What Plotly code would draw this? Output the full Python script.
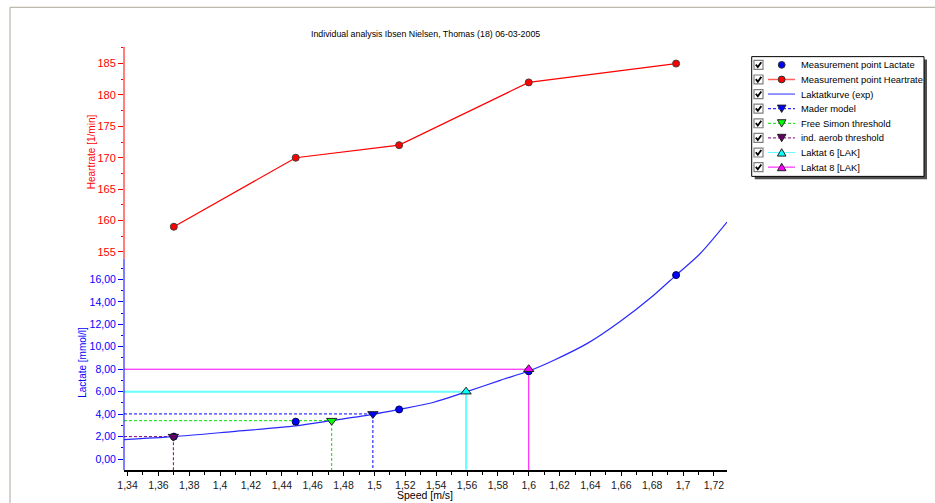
import plotly.graph_objects as go

# ---------------- data ----------------
title_text = "Individual analysis Ibsen Nielsen, Thomas (18) 06-03-2005"

speed = [1.370, 1.449, 1.516, 1.600, 1.6955]
lactate = [2.00, 3.33, 4.42, 7.82, 16.38]
heartrate = [159, 170, 172, 182, 185]

curve_speed = [1.3377, 1.3697, 1.408, 1.449, 1.472, 1.499, 1.516, 1.538, 1.5594,
               1.5815, 1.600, 1.616, 1.638, 1.659, 1.681, 1.6955, 1.711, 1.7285]
curve_lactate = [1.74, 2.00, 2.45, 2.95, 3.42, 3.98, 4.42, 5.04, 5.98,
                 7.01, 7.84, 8.78, 10.30, 12.23, 14.59, 16.38, 18.28, 21.10]

thr_names = ["Mader model", "Free Simon threshold", "ind. aerob threshold",
             "Laktat 6 [LAK]", "Laktat 8 [LAK]"]
thr_speed = [1.499, 1.4723, 1.3697, 1.5594, 1.600]
thr_lactate = [4.02, 3.42, 2.00, 6.00, 8.00]

x_tickvals = [1.34, 1.36, 1.38, 1.40, 1.42, 1.44, 1.46, 1.48, 1.50, 1.52, 1.54,
              1.56, 1.58, 1.60, 1.62, 1.64, 1.66, 1.68, 1.70, 1.72]
x_ticktext = ["1,34", "1,36", "1,38", "1,4", "1,42", "1,44", "1,46", "1,48", "1,5",
              "1,52", "1,54", "1,56", "1,58", "1,6", "1,62", "1,64", "1,66", "1,68",
              "1,7", "1,72"]
lac_tickvals = [0, 2, 4, 6, 8, 10, 12, 14, 16]
lac_ticktext = ["0,00", "2,00", "4,00", "6,00", "8,00", "10,00", "12,00", "14,00", "16,00"]
lac_minor = [1, 3, 5, 7, 9, 11, 13, 15, 17]
hr_tickvals = [155, 160, 165, 170, 175, 180, 185]
hr_minor = [157.5, 162.5, 167.5, 172.5, 177.5, 182.5, 187.5]

# ---------------- layout geometry ----------------
W, H = 935, 503
PL, PR, PT, PB = 124, 727, 47, 473          # plot area in pixels
X_RANGE = [1.3377, 1.7285]
Y_RANGE = [-0.972, 36.685]
Y2_RANGE = [120.24, 187.64]
LAC_AXIS_TOP = 17.83
HR_AXIS_BOTTOM = 153.9

RED = "#ff0000"
BLUE = "#0000ff"
FONT = "Liberation Sans, Arial, sans-serif"


def px(xp):
    return (xp - PL) / (PR - PL)


def py(yp):
    return (PB - yp) / (PB - PT)


thr_style = [
    dict(color="#0000ff", dash="3px,2px", width=1, symbol="triangle-down", mcolor="#0000ff"),
    dict(color="#00e000", dash="3px,2px", width=1, symbol="triangle-down", mcolor="#00ff00"),
    dict(color="#800080", dash="3px,2px", width=1, symbol="triangle-down", mcolor="#660066"),
    dict(color="#66ffff", dash="solid", width=2, symbol="triangle-up", mcolor="#00ffff"),
    dict(color="#ff00ff", dash="solid", width=1, symbol="triangle-up", mcolor="#ff00ff"),
]

fig = go.Figure()

# threshold guide lines (left axis -> point -> bottom axis)
for name, tx, ty, st in zip(thr_names, thr_speed, thr_lactate, thr_style):
    fig.add_trace(go.Scatter(
        x=[X_RANGE[0], tx, tx], y=[ty, ty, Y_RANGE[0]], mode="lines",
        line=dict(color=st["color"], dash=st["dash"], width=st["width"]),
        showlegend=False, hoverinfo="skip", name=name))

# lactate curve
fig.add_trace(go.Scatter(x=curve_speed, y=curve_lactate, mode="lines",
                         line=dict(color="#2828ff", width=1.2, shape="spline", smoothing=0.8),
                         name="Laktatkurve (exp)", showlegend=False))

# lactate measurement points
fig.add_trace(go.Scatter(x=speed, y=lactate, mode="markers",
                         marker=dict(symbol="circle", size=7, color=BLUE,
                                     line=dict(color="#000050", width=1)),
                         name="Measurement point Lactate", showlegend=False))

# threshold markers
for name, tx, ty, st in zip(thr_names, thr_speed, thr_lactate, thr_style):
    fig.add_trace(go.Scatter(
        x=[tx], y=[ty], mode="markers",
        marker=dict(symbol=st["symbol"], size=9, color=st["mcolor"],
                    line=dict(color="#202020", width=1)),
        showlegend=False, name=name))

# heartrate
fig.add_trace(go.Scatter(x=speed, y=heartrate, mode="lines+markers", yaxis="y2",
                         line=dict(color=RED, width=1.2),
                         marker=dict(symbol="circle", size=7, color=RED,
                                     line=dict(color="#404040", width=1)),
                         name="Measurement point Heartrate", showlegend=False))

shapes = []
annotations = []

# window frame
shapes.append(dict(type="line", xref="paper", yref="paper", x0=px(10), x1=px(W + 5),
                   y0=py(7), y1=py(7), line=dict(color="#aca899", width=1)))
shapes.append(dict(type="line", xref="paper", yref="paper", x0=px(10), x1=px(10),
                   y0=py(7), y1=py(H + 5), line=dict(color="#aca899", width=1)))

# y-axis lines (red for heartrate part, blue for lactate part)
shapes.append(dict(type="line", xref="paper", yref="y2", x0=0, x1=0,
                   y0=HR_AXIS_BOTTOM, y1=Y2_RANGE[1], line=dict(color=RED, width=1)))
shapes.append(dict(type="line", xref="paper", yref="y", x0=0, x1=0,
                   y0=Y_RANGE[0], y1=LAC_AXIS_TOP, line=dict(color=BLUE, width=1)))

# ---------------- custom legend ----------------
LX0, LY0, LX1, LY1 = 751.7, 56.7, 924, 177.3
shapes.append(dict(type="rect", xref="paper", yref="paper", x0=px(LX0 + 3), x1=px(LX1 + 3),
                   y0=py(LY0 + 3), y1=py(LY1 + 3), fillcolor="#505050", line=dict(width=0)))
shapes.append(dict(type="rect", xref="paper", yref="paper", x0=px(LX0), x1=px(LX1),
                   y0=py(LY0), y1=py(LY1), fillcolor="white", line=dict(color="black", width=1)))

legend_entries = [
    dict(name="Measurement point Lactate", line=None, dash="solid", lw=1, symbol="circle", mcolor=BLUE),
    dict(name="Measurement point Heartrate", line="#ff6060", dash="solid", lw=1.5, symbol="circle", mcolor=RED),
    dict(name="Laktatkurve (exp)", line="#7070ff", dash="solid", lw=1.5, symbol=None, mcolor=None),
]
for name, st in zip(thr_names, thr_style):
    legend_entries.append(dict(name=name, line=st["color"], dash=st["dash"], lw=1,
                               symbol=st["symbol"], mcolor=st["mcolor"]))

ROW0, ROWSTEP = 65.0, 14.71
for i, e in enumerate(legend_entries):
    yc = ROW0 + i * ROWSTEP
    # checkbox
    shapes.append(dict(type="rect", xref="paper", yref="paper", x0=px(754), x1=px(763),
                       y0=py(yc - 4.5), y1=py(yc + 4.5), fillcolor="white",
                       line=dict(color="#808080", width=1.2)))
    shapes.append(dict(type="path", xref="paper", yref="paper",
                       path=f"M {px(755.8)},{py(yc - 0.3)} L {px(757.8)},{py(yc + 2.2)} L {px(761.3)},{py(yc - 2.6)}",
                       line=dict(color="black", width=1.8)))
    # line sample
    if e["line"]:
        shapes.append(dict(type="line", xref="paper", yref="paper", x0=px(768), x1=px(795),
                           y0=py(yc), y1=py(yc),
                           line=dict(color=e["line"], width=e["lw"], dash=e["dash"])))
    # marker sample
    cx = 781.7
    if e["symbol"] == "circle":
        r = 3.4
        shapes.append(dict(type="circle", xref="paper", yref="paper", x0=px(cx - r), x1=px(cx + r),
                           y0=py(yc - r), y1=py(yc + r), fillcolor=e["mcolor"],
                           line=dict(color="#303030", width=1)))
    elif e["symbol"] == "triangle-down":
        shapes.append(dict(type="path", xref="paper", yref="paper",
                           path=f"M {px(cx - 4.3)},{py(yc - 3.6)} L {px(cx + 4.3)},{py(yc - 3.6)} L {px(cx)},{py(yc + 3.8)} Z",
                           fillcolor=e["mcolor"], line=dict(color="#202020", width=1)))
    elif e["symbol"] == "triangle-up":
        shapes.append(dict(type="path", xref="paper", yref="paper",
                           path=f"M {px(cx - 4.3)},{py(yc + 3.6)} L {px(cx + 4.3)},{py(yc + 3.6)} L {px(cx)},{py(yc - 3.8)} Z",
                           fillcolor=e["mcolor"], line=dict(color="#202020", width=1)))
    annotations.append(dict(text=e["name"], xref="paper", yref="paper", x=px(798.5), y=py(yc),
                            xanchor="left", yanchor="middle", showarrow=False,
                            font=dict(family=FONT, size=9.4, color="black")))

# title & axis titles
annotations.append(dict(text=title_text, xref="paper", yref="paper", x=px(425), y=py(33.5),
                        xanchor="center", yanchor="middle", showarrow=False,
                        font=dict(family=FONT, size=8.8, color="black")))
annotations.append(dict(text="Heartrate [1/min]", xref="paper", yref="paper", x=px(91), y=py(153),
                        xanchor="center", yanchor="middle", textangle=-90, showarrow=False,
                        font=dict(family=FONT, size=10, color=RED)))
annotations.append(dict(text="Lactate [mmol/l]", xref="paper", yref="paper", x=px(83), y=py(365),
                        xanchor="center", yanchor="middle", textangle=-90, showarrow=False,
                        font=dict(family=FONT, size=10, color=BLUE)))
annotations.append(dict(text="Speed [m/s]", xref="paper", yref="paper", x=px(425), y=py(498.5),
                        xanchor="center", yanchor="middle", showarrow=False,
                        font=dict(family=FONT, size=10.5, color="black")))

fig.update_layout(
    width=W, height=H,
    margin=dict(l=PL, r=W - PR, t=PT, b=H - PB, pad=0),
    paper_bgcolor="white", plot_bgcolor="white",
    showlegend=False,
    shapes=shapes, annotations=annotations,
    xaxis=dict(range=X_RANGE, tickmode="array", tickvals=x_tickvals, ticktext=x_ticktext,
               showgrid=False, zeroline=False, showline=True, linecolor="black", linewidth=2,
               ticks="outside", ticklen=4, tickwidth=1, tickcolor="black",
               tickfont=dict(family=FONT, size=10.5, color="#202020"),
               minor=dict(tickmode="linear", tick0=1.35, dtick=0.02, ticks="outside",
                          ticklen=2.5, tickcolor="black", showgrid=False)),
    yaxis=dict(range=Y_RANGE, tickmode="array", tickvals=lac_tickvals, ticktext=lac_ticktext,
               showgrid=False, zeroline=False, showline=False,
               ticks="outside", ticklen=5, tickwidth=1, tickcolor=BLUE,
               tickfont=dict(family=FONT, size=10.5, color=BLUE),
               minor=dict(tickmode="array", tickvals=lac_minor, ticks="outside",
                          ticklen=2.5, tickcolor=BLUE, showgrid=False)),
    yaxis2=dict(range=Y2_RANGE, overlaying="y", side="left", anchor="x",
                tickmode="array", tickvals=hr_tickvals,
                showgrid=False, zeroline=False, showline=False,
                ticks="outside", ticklen=5, tickwidth=1, tickcolor=RED,
                tickfont=dict(family=FONT, size=11, color=RED),
                minor=dict(tickmode="array", tickvals=hr_minor, ticks="outside",
                           ticklen=2.5, tickcolor=RED, showgrid=False)),
)

fig.write_html("out.html", config={"displayModeBar": False},
               post_script="document.body.style.margin='0px';document.body.style.overflow='hidden';")
